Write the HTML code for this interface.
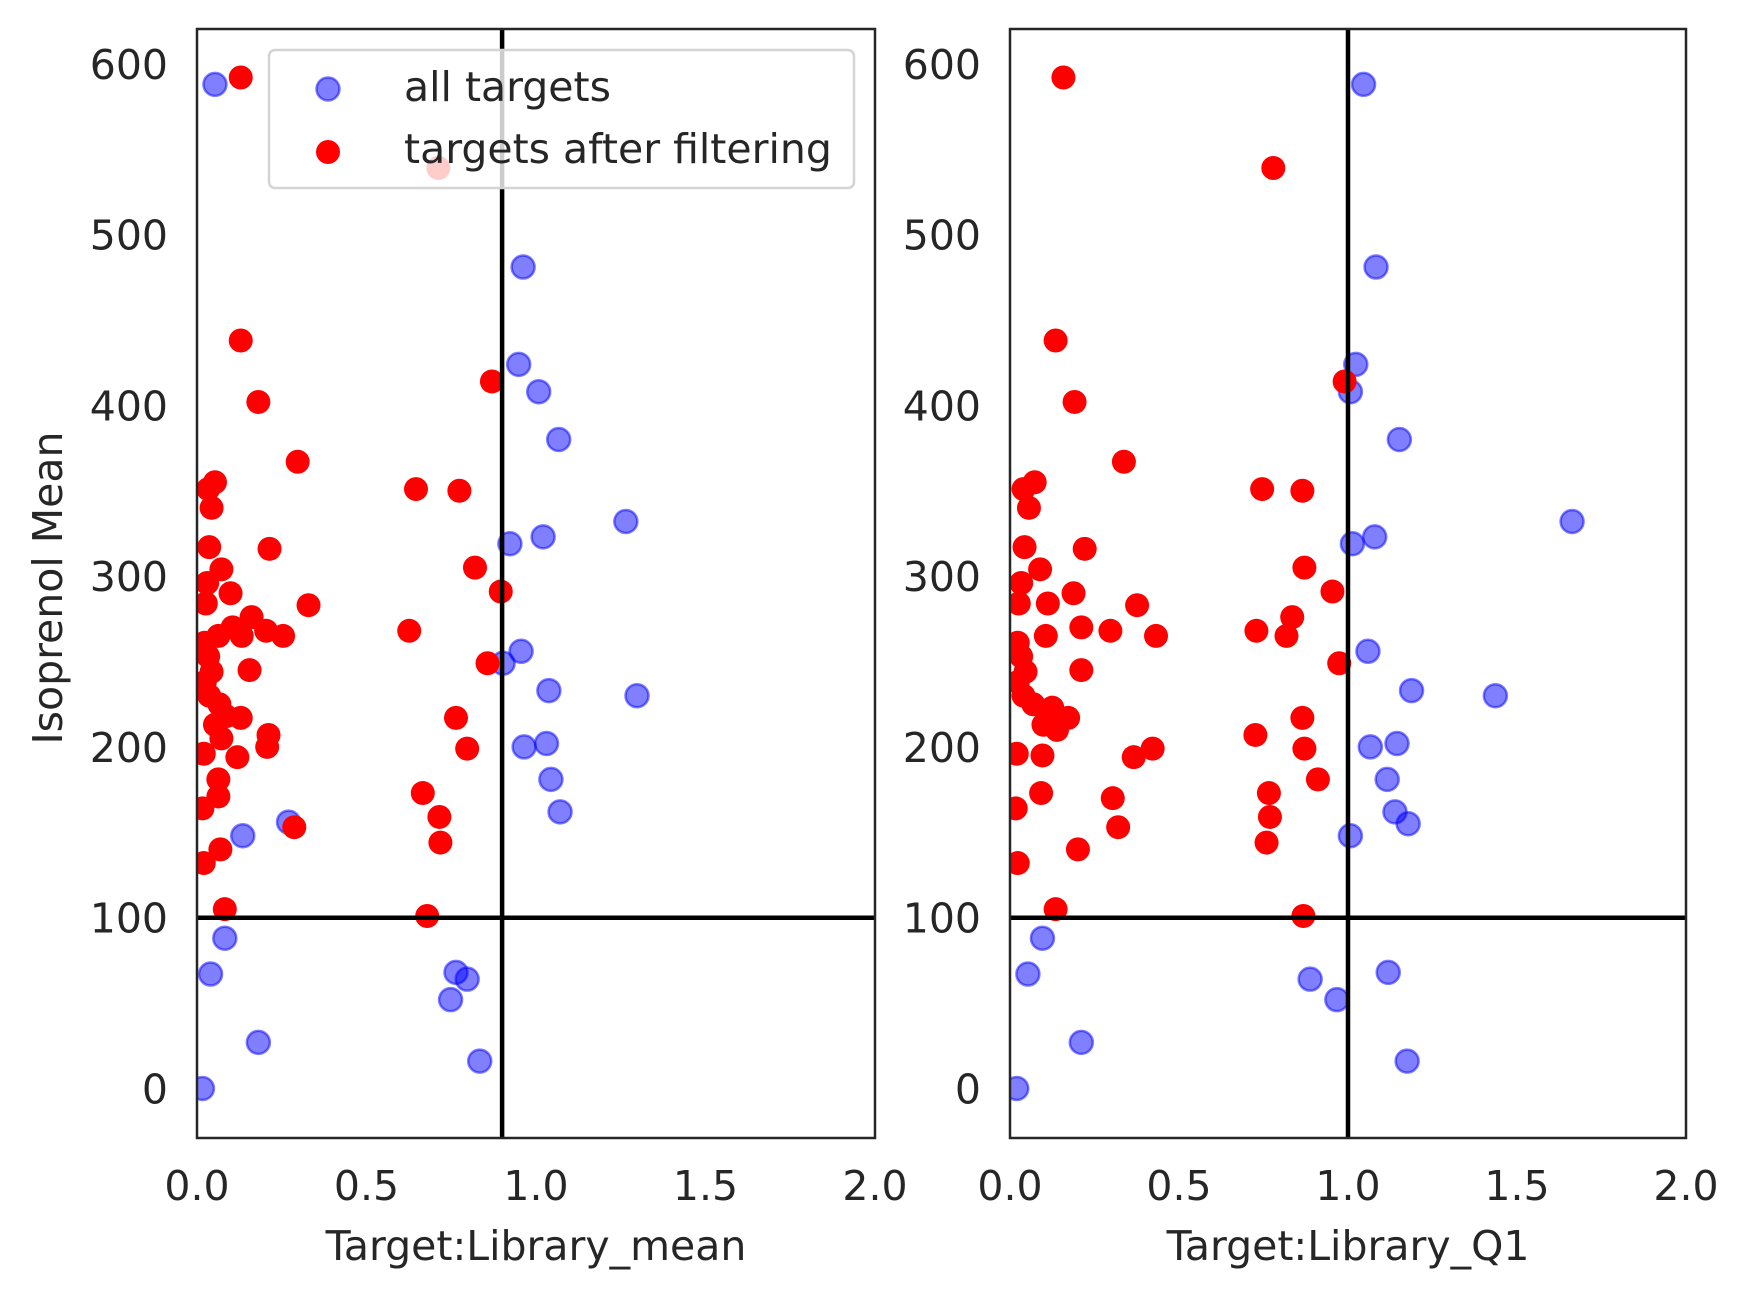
<!DOCTYPE html>
<html><head><meta charset="utf-8"><style>
html,body{margin:0;padding:0;background:#fff;}
svg{display:block;font-family:"DejaVu Sans","Liberation Sans",sans-serif;}
</style></head><body>
<svg id="chart" width="1748" height="1299" viewBox="0 0 1748 1299" xmlns="http://www.w3.org/2000/svg"></svg>
<script>
const xTicks = [0.0, 0.5, 1.0, 1.5, 2.0];
const xTickLabels = ["0.0","0.5","1.0","1.5","2.0"];
const yTicks = [0, 100, 200, 300, 400, 500, 600];
const yTickLabels = ["0","100","200","300","400","500","600"];
const leftBlueX = [0.053,0.962,0.949,1.008,1.067,1.265,0.923,1.021,0.956,0.903,1.038,1.298,0.965,1.031,1.044,1.071,0.270,0.135,0.082,0.040,0.764,0.797,0.748,0.181,0.834,0.016];
const leftBlueY = [588,481,424,408,380,332,319,323,256,249,233,230,200,202,181,162,156,148,88,67,68,64,52,27,16,0];
const rightBlueX = [1.046,1.083,1.023,1.007,1.152,1.663,1.013,1.079,1.059,1.188,1.436,1.066,1.145,1.116,1.139,1.178,1.007,0.096,0.053,1.119,0.888,0.967,0.211,1.175,0.020];
const rightBlueY = [588,481,424,408,380,332,319,323,256,233,230,200,202,181,162,155,148,88,67,68,64,52,27,16,0];
const leftRedX = [0.129,0.712,0.129,0.181,0.870,0.297,0.053,0.033,0.646,0.774,0.043,0.036,0.214,0.072,0.820,0.030,0.099,0.896,0.026,0.329,0.161,0.105,0.204,0.254,0.063,0.132,0.626,0.023,0.033,0.043,0.155,0.857,0.023,0.036,0.066,0.086,0.129,0.053,0.764,0.072,0.211,0.207,0.797,0.020,0.119,0.063,0.063,0.666,0.715,0.016,0.287,0.718,0.069,0.020,0.082,0.679];
const leftRedY = [592,539,438,402,414,367,355,351,351,350,340,317,316,304,305,296,290,291,284,283,276,270,268,265,265,265,268,261,253,244,245,249,238,230,225,218,217,213,217,205,207,200,199,196,194,181,171,173,159,164,153,144,140,132,105,101];
const rightRedX = [0.158,0.779,0.135,0.191,0.990,0.337,0.073,0.040,0.746,0.865,0.056,0.043,0.221,0.089,0.871,0.033,0.188,0.954,0.026,0.112,0.376,0.835,0.211,0.297,0.106,0.432,0.729,0.818,0.023,0.033,0.046,0.211,0.974,0.023,0.040,0.069,0.125,0.172,0.099,0.139,0.865,0.726,0.422,0.871,0.020,0.096,0.366,0.911,0.092,0.304,0.766,0.769,0.017,0.320,0.759,0.201,0.023,0.135,0.868];
const rightRedY = [592,539,438,402,414,367,355,351,351,350,340,317,316,304,305,296,290,291,284,284,283,276,270,268,265,265,268,265,261,253,244,245,249,238,230,225,223,217,213,210,217,207,199,199,196,195,194,181,173,170,173,159,164,153,144,140,132,105,101];

const NS = "http://www.w3.org/2000/svg";
const svg = document.getElementById('chart');
function mk(tag, attrs, parent){const e=document.createElementNS(NS,tag);for(const k in attrs)e.setAttribute(k,attrs[k]);(parent||svg).appendChild(e);return e;}

const Y0=1138, Y1=29, YMIN=-29, YMAX=620.4;
function yScale(v){return Y0-(v-YMIN)/(YMAX-YMIN)*(Y0-Y1);}

function panel(name, left, right, vline, blueX, blueY, redX, redY, xlabel){
  const g=mk('g',{});
  
  
  const xs=v=>left+(v-0)/(2-0)*(right-left);
  const clip=mk('clipPath',{id:name+'-clip'},g);
  mk('rect',{x:left,y:Y1,width:right-left,height:Y0-Y1},clip);
  const pts=mk('g',{'clip-path':'url(#'+name+'-clip)'},g);
  for(let i=0;i<blueX.length;i++){
    const c=mk('circle',{cx:xs(blueX[i]),cy:yScale(blueY[i]),r:11.5,fill:'rgba(0,0,255,0.5)',stroke:'rgba(0,0,255,0.5)','stroke-width':2.5},pts);
    
    
  }
  for(let i=0;i<redX.length;i++){
    const c=mk('circle',{cx:xs(redX[i]),cy:yScale(redY[i]),r:12,fill:'#ff0000'},pts);
    
    
  }
  const vl=mk('line',{x1:xs(vline),x2:xs(vline),y1:Y1,y2:Y0,stroke:'#000','stroke-width':4.5},g);
  
  
  const hl=mk('line',{x1:left,x2:right,y1:yScale(100),y2:yScale(100),stroke:'#000','stroke-width':4.5},g);
  
  
  const fr=mk('rect',{x:left,y:Y1,width:right-left,height:Y0-Y1,fill:'none',stroke:'#262626','stroke-width':2.5},g);
  
  
  for(let i=0;i<xTicks.length;i++){
    const t=mk('text',{x:xs(xTicks[i]),y:1200,'text-anchor':'middle','font-size':41,fill:'#262626'},g);
    t.textContent=xTickLabels[i];
    
    
  }
  for(let i=0;i<yTicks.length;i++){
    const t=mk('text',{x:left-29,y:yScale(yTicks[i])+15,'text-anchor':'end','font-size':41,fill:'#262626'},g);
    t.textContent=yTickLabels[i];
    
    
  }
  const xl=mk('text',{x:(left+right)/2,y:1260,'text-anchor':'middle','font-size':41,fill:'#262626'},g);
  xl.textContent=xlabel;
  
  
}
panel('left-panel',197,875,0.9,leftBlueX,leftBlueY,leftRedX,leftRedY,'Target:Library_mean');
panel('right-panel',1010,1686,1.0,rightBlueX,rightBlueY,rightRedX,rightRedY,'Target:Library_Q1');

const yl=mk('text',{x:0,y:0,'text-anchor':'middle','font-size':41,fill:'#262626',transform:'translate(62,588) rotate(-90)'});
yl.textContent='Isoprenol Mean';



const lg=mk('g',{});


mk('rect',{x:269,y:50,width:585,height:138,rx:6,fill:'rgba(255,255,255,0.8)',stroke:'#d4d4d4','stroke-width':2.5},lg);
mk('circle',{cx:328,cy:89,r:11.5,fill:'rgba(0,0,255,0.5)',stroke:'rgba(0,0,255,0.5)','stroke-width':2.5},lg);
mk('circle',{cx:328,cy:152,r:12,fill:'#ff0000'},lg);
const l1=mk('text',{x:404,y:101,'font-size':41,fill:'#262626'},lg);
l1.textContent='all targets';


const l2=mk('text',{x:404,y:163,'font-size':41,fill:'#262626'},lg);
l2.textContent='targets after filtering';


</script>
</body></html>
